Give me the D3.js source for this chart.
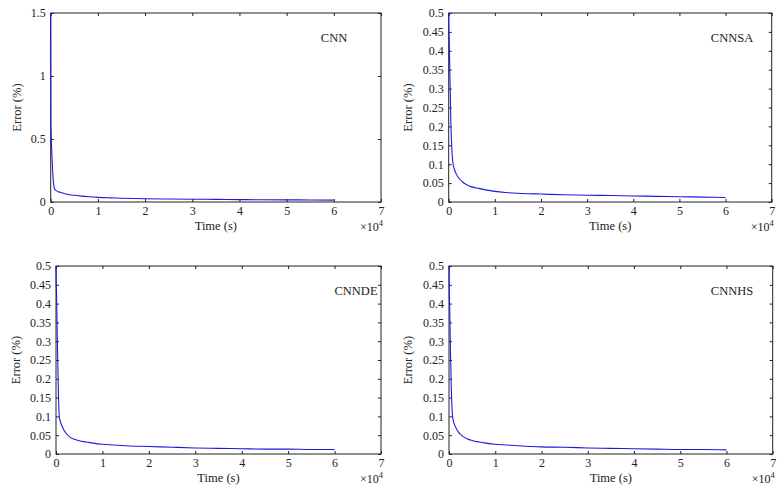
<!DOCTYPE html>
<html>
<head>
<meta charset="utf-8">
<script src="https://cdn.jsdelivr.net/npm/d3@7/dist/d3.min.js"></script>
<style>
  html, body { margin: 0; padding: 0; background: #fff; }
  svg { display: block; }
  text { font-family: "Liberation Serif", "Times New Roman", serif; fill: #222; }
</style>
</head>
<body>
<svg id="chart" width="784" height="500"></svg>
<script>
// ---------------- DATA ----------------
const timeSec = [0, 30, 130, 250, 340, 490, 700, 900, 1200, 1600, 2000, 3000, 4000, 5000,
  6500, 8000, 10000, 12500, 15000, 20000, 25000, 30000, 35000, 40000, 45000, 50000, 55000, 60000];

const errorCNN = [1.5, 0.66, 0.5, 0.38, 0.3, 0.2, 0.12, 0.1, 0.09, 0.082, 0.077, 0.066, 0.058, 0.053,
  0.047, 0.042, 0.037, 0.033, 0.03, 0.026, 0.024, 0.022, 0.021, 0.019, 0.018, 0.017, 0.016, 0.015];

const errorCNNSA = [0.5, 0.47, 0.42, 0.34, 0.29, 0.2, 0.135, 0.105, 0.088, 0.075, 0.066, 0.053, 0.045, 0.04,
  0.036, 0.032, 0.028, 0.025, 0.023, 0.021, 0.019, 0.018, 0.017, 0.016, 0.015, 0.014, 0.013, 0.012];

const errorCNNDE = [0.5, 0.47, 0.42, 0.33, 0.27, 0.18, 0.1, 0.088, 0.077, 0.066, 0.058, 0.045, 0.039, 0.035,
  0.032, 0.029, 0.026, 0.024, 0.022, 0.02, 0.018, 0.016, 0.015, 0.014, 0.013, 0.013, 0.012, 0.012];

const errorCNNHS = [0.5, 0.46, 0.4, 0.32, 0.26, 0.18, 0.11, 0.09, 0.078, 0.067, 0.059, 0.047, 0.04, 0.036,
  0.032, 0.029, 0.026, 0.024, 0.022, 0.019, 0.018, 0.016, 0.015, 0.014, 0.013, 0.012, 0.012, 0.011];

const panelTitles = ["CNN", "CNNSA", "CNNDE", "CNNHS"];
const xTickValues = [0, 10000, 20000, 30000, 40000, 50000, 60000, 70000];
const yTicksCNN = [0, 0.5, 1, 1.5];
const yTicksOther = [0, 0.05, 0.1, 0.15, 0.2, 0.25, 0.3, 0.35, 0.4, 0.45, 0.5];
const xLabel = "Time (s)";
const yLabel = "Error (%)";
const xExponent = "4";

// ---------------- LAYOUT ----------------
const panels = [
  { values: errorCNN,   yMax: 1.5, yTicks: yTicksCNN,   left: 50.7, right: 381,   top: 13,  bottom: 202, titleX: 334, titleY: 42, ylabX: 17 },
  { values: errorCNNSA, yMax: 0.5, yTicks: yTicksOther, left: 448.7, right: 771.7, top: 13,  bottom: 202, titleX: 732, titleY: 42, ylabX: 408 },
  { values: errorCNNDE, yMax: 0.5, yTicks: yTicksOther, left: 56,   right: 381,   top: 266, bottom: 454, titleX: 356, titleY: 295, ylabX: 16 },
  { values: errorCNNHS, yMax: 0.5, yTicks: yTicksOther, left: 449,  right: 772.7, top: 266, bottom: 454, titleX: 732, titleY: 295, ylabX: 408 }
];

const svg = d3.select("#chart");
const fmtY = d => String(+d.toFixed(2));
const fmtX = d => String(d / 10000);
const tick = 3;

panels.forEach((p, i) => {
  const x = d3.scaleLinear().domain([0, 70000]).range([p.left, p.right]);
  const y = d3.scaleLinear().domain([0, p.yMax]).range([p.bottom, p.top]);
  const g = svg.append("g");

  const gb = g.append("g").attr("transform", `translate(0,${p.bottom})`)
    .call(d3.axisBottom(x).tickValues(xTickValues).tickFormat(fmtX).tickSizeInner(-tick).tickSizeOuter(0).tickPadding(4));
  const gt = g.append("g").attr("transform", `translate(0,${p.top})`)
    .call(d3.axisTop(x).tickValues(xTickValues).tickFormat("").tickSizeInner(-tick).tickSizeOuter(0));
  const gl = g.append("g").attr("transform", `translate(${p.left},0)`)
    .call(d3.axisLeft(y).tickValues(p.yTicks).tickFormat(fmtY).tickSizeInner(-tick).tickSizeOuter(0).tickPadding(5));
  const gr = g.append("g").attr("transform", `translate(${p.right},0)`)
    .call(d3.axisRight(y).tickValues(p.yTicks).tickFormat("").tickSizeInner(-tick).tickSizeOuter(0));

  [gb, gt, gl, gr].forEach(a => {
    a.select(".domain").remove();
    a.selectAll("line").attr("stroke", "#222").attr("stroke-width", 1);
    a.selectAll("text").attr("font-size", 12).attr("fill", "#222")
      .attr("font-family", '"Liberation Serif", "Times New Roman", serif');
  });

  g.append("rect")
    .attr("x", p.left).attr("y", p.top)
    .attr("width", p.right - p.left).attr("height", p.bottom - p.top)
    .attr("fill", "none").attr("stroke", "#222").attr("stroke-width", 1);

  const pts = timeSec.map((t, k) => [t, p.values[k]]);
  g.append("path")
    .datum(pts)
    .attr("fill", "none")
    .attr("stroke", "#1a1ae0")
    .attr("stroke-width", 1.1)
    .attr("d", d3.line().x(d => x(d[0])).y(d => y(d[1])).curve(d3.curveMonotoneX));

  g.append("text")
    .attr("x", p.titleX).attr("y", p.titleY)
    .attr("text-anchor", "middle").attr("font-size", 12.5)
    .text(panelTitles[i]);

  g.append("text")
    .attr("x", (p.left + p.right) / 2).attr("y", p.bottom + 28)
    .attr("text-anchor", "middle").attr("font-size", 12.5)
    .text(xLabel);

  const ex = g.append("text")
    .attr("x", p.right - 21).attr("y", p.bottom + 29)
    .attr("font-size", 12);
  ex.append("tspan").text("\u00d710");
  ex.append("tspan").attr("dy", -5).attr("font-size", 8.5).text(xExponent);

  g.append("text")
    .attr("transform", `translate(${p.ylabX + 4},${(p.top + p.bottom) / 2}) rotate(-90)`)
    .attr("text-anchor", "middle").attr("font-size", 12.5)
    .text(yLabel);
});
</script>
</body>
</html>
